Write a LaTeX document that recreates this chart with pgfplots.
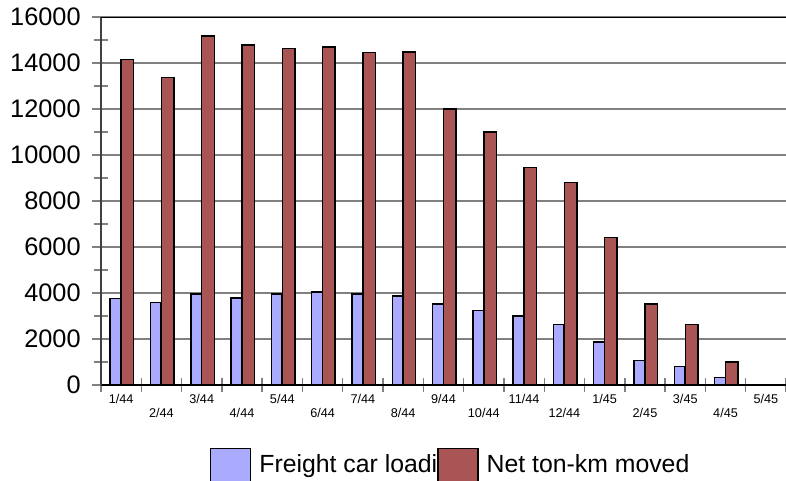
\documentclass[border=0pt]{standalone}
\usepackage{pgfplots}
\pgfplotsset{compat=1.18}
\usepackage{fontspec}
\setmainfont{Liberation Sans}
\definecolor{barblue}{RGB}{170,170,255}
\definecolor{barred}{RGB}{170,85,85}
\definecolor{gridgray}{RGB}{128,128,128}
\begin{document}
\begin{tikzpicture}
\useasboundingbox (0,0) rectangle (589.5pt,360pt);
\begin{axis}[
  at={(75.75pt,71.25pt)}, anchor=south west,
  scale only axis, width=513.75pt, height=276pt,
  xmin=-0.5, xmax=16.5, ymin=0, ymax=16000,
  axis x line*=bottom, axis y line*=left,
  x axis line style={black, line width=1.4pt},
  y axis line style={black!75, line width=1pt},
  ytick={0,2000,...,16000},
  minor ytick={1000,3000,...,15000},
  ymajorgrids,
  major grid style={gridgray, line width=1.1pt},
  xtick={0,1,...,16},
  xticklabels={1/44,{\vphantom{0}\\2/44},3/44,{\vphantom{0}\\4/44},5/44,{\vphantom{0}\\6/44},7/44,{\vphantom{0}\\8/44},9/44,{\vphantom{0}\\10/44},11/44,{\vphantom{0}\\12/44},1/45,{\vphantom{0}\\2/45},3/45,{\vphantom{0}\\4/45},5/45},
  minor xtick={-0.5,0.5,...,16.5},
  tick align=center,
  major tick length=13.5pt, minor tick length=10pt,
  major x tick style={draw=none},
  tick style={gridgray, line width=1.1pt},
  scaled y ticks=false,
  /pgf/number format/assume math mode=true,
  yticklabel style={/pgf/number format/1000 sep={}, font=\fontsize{19}{20}\selectfont, xshift=-5pt},
  xticklabel style={font=\fontsize{9.5}{10.5}\selectfont, align=center, anchor=north, yshift=3pt},
  legend columns=2,
  legend style={at={(0.1591,-0.1712)}, anchor=north west, draw=none, fill=none,
    inner sep=0pt, outer sep=0pt, font=\fontsize{18.6}{20}\selectfont,
    nodes={inner sep=0pt},
    /tikz/every odd column/.append style={column sep=6pt},
    /tikz/every even column/.append style={column sep=0pt}},
]
\addplot[ybar, fill=barblue, draw=black, line width=1.1pt, bar width=8pt, bar shift=-4.2pt,
  legend image code/.code={\draw[fill=barblue, draw=black, line width=1.1pt] (0pt,-18pt) rectangle (30pt,12pt);}]
  coordinates {(0,3750) (1,3590) (2,3960) (3,3780) (4,3960) (5,4040) (6,3960) (7,3870) (8,3520) (9,3230) (10,3010) (11,2620) (12,1870) (13,1070) (14,810) (15,320) (16,0)};
\addplot[ybar, fill=barred, draw=black, line width=1.1pt, bar width=9.4pt, bar shift=4.7pt,
  legend image code/.code={\draw[fill=barred, draw=black, line width=1.1pt] (0pt,-18pt) rectangle (30pt,12pt);}]
  coordinates {(0,14150) (1,13380) (2,15170) (3,14780) (4,14640) (5,14700) (6,14450) (7,14480) (8,12010) (9,11000) (10,9450) (11,8800) (12,6420) (13,3520) (14,2640) (15,1010) (16,0)};
\legend{Freight car loadi, Net ton-km moved}
\draw[black, line width=1.1pt] (rel axis cs:0,1) -- (rel axis cs:1,1);
\end{axis}
\end{tikzpicture}
\end{document}
